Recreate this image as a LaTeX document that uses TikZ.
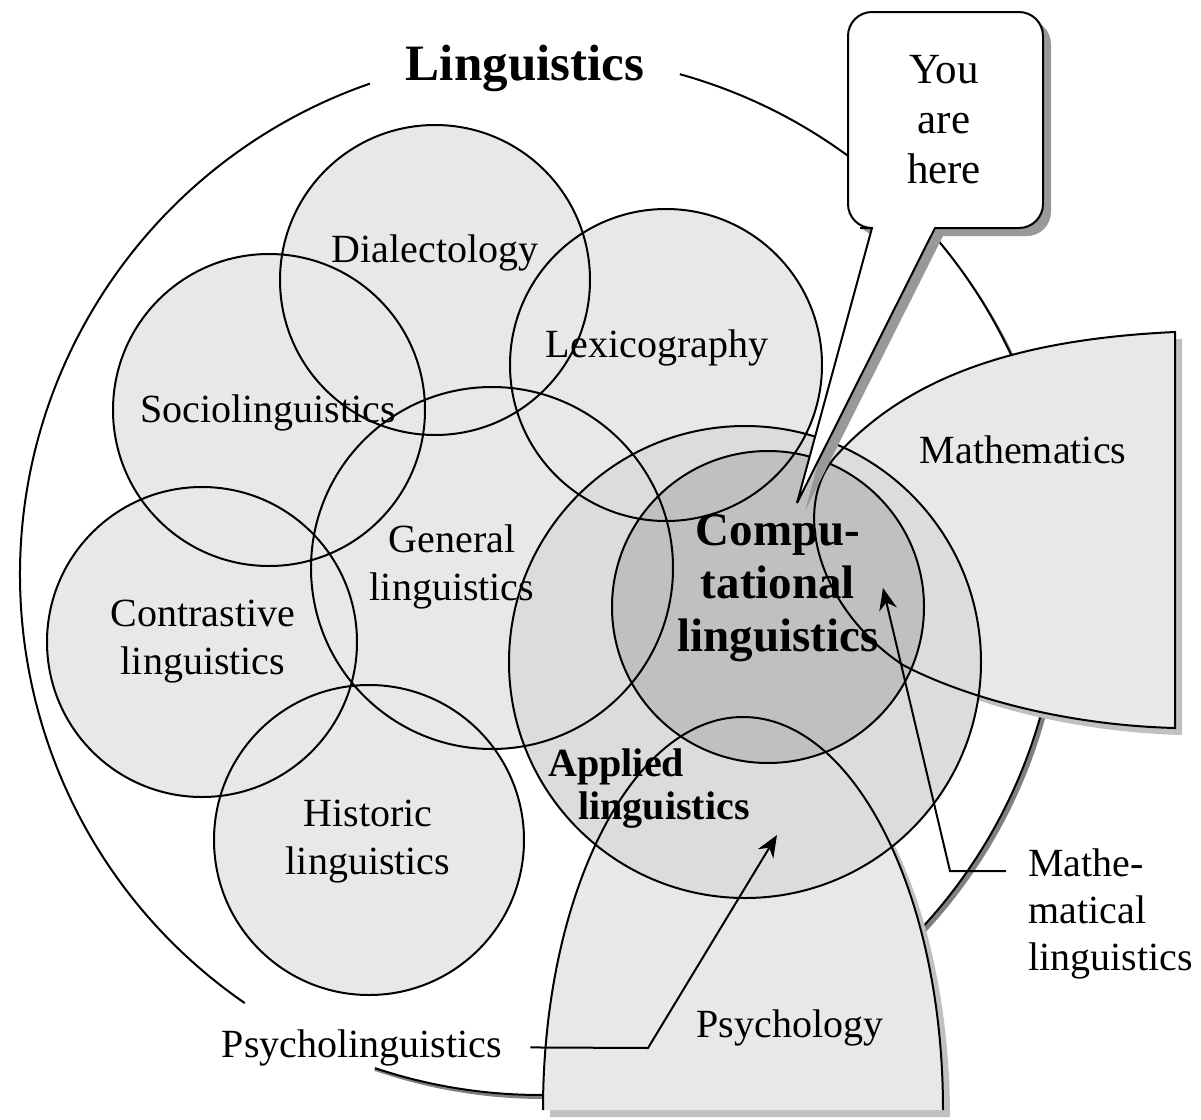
\documentclass[tikz,border=0pt]{standalone}
\usepackage{fontspec}
\setmainfont{Liberation Serif}
\usetikzlibrary{arrows.meta}

\definecolor{fieldgray}{HTML}{E8E8E8}
\definecolor{appliedgray}{HTML}{DCDCDC}
\definecolor{compgray}{HTML}{C0C0C0}
\definecolor{shadowdark}{HTML}{808080}
\definecolor{shadowmid}{HTML}{999999}
\definecolor{shadowlight}{HTML}{C0C0C0}

% boundaries of the irregular regions (pixel-like units, y pointing down)
\newcommand{\mathsregion}{(835,457) .. controls (900,385) and (1000,340) .. (1175,332) -- (1175,728) .. controls (1060,725) and (960,695) .. (903,665) .. controls (820,610) and (790,510) .. (835,457) -- cycle}
\newcommand{\psychregion}{(543,1110) arc[start angle=180, end angle=360, x radius=200, y radius=393]}
\newcommand{\bubbleregion}{(848,120) [rounded corners=12pt] -- (848,12) -- (1043,12) -- (1043,228) -- (960,228) [sharp corners] -- (935,228) -- (797,503) -- (872,228) -- (860,228) [rounded corners=12pt] -- (848,228) -- cycle}

\begin{document}
\begin{tikzpicture}[x=0.5pt, y=-0.5pt,
  outline/.style={draw=black, line width=1pt},
  txt/.style={inner sep=0pt, align=center, font=\fontsize{20}{24}\selectfont},
  pointer/.style={draw=black, line width=1pt, -{Stealth[length=11pt, width=9pt]}},
]
\useasboundingbox (0,0) rectangle (1201,1120);
\fill[white] (0,0) rectangle (1201,1120);

% circle centres
\coordinate (c-out) at (540,575);
\coordinate (c-dia) at (435,280);
\coordinate (c-soc) at (269,410);
\coordinate (c-lex) at (666,365);
\coordinate (c-gen) at (492,568);
\coordinate (c-con) at (202,642);
\coordinate (c-his) at (369,840);
\coordinate (c-app) at (745,662);
\coordinate (c-com) at (768,607);

% the whole field of linguistics, open where the side label sits
\fill[shadowdark] ([shift={(4,4)}]c-out) circle[radius=520];
\fill[white] (c-out) circle[radius=520];
\fill[white] (c-out) -- ++(108.5:545) arc[start angle=108.5, end angle=124.6, radius=545] -- cycle;
\draw[outline] (c-out) ++(-74.4:520) arc[start angle=-74.4, end angle=108.5, radius=520];
\draw[outline] (c-out) ++(124.6:520) arc[start angle=124.6, end angle=250.9, radius=520];

% neighbouring disciplines
\fill[shadowlight, shift={(7,7)}] \mathsregion;
\fill[fieldgray] \mathsregion;
\fill[shadowlight, shift={(7,7)}] \psychregion -- cycle;
\fill[fieldgray] \psychregion -- cycle;

% branches of linguistics: fills
\fill[fieldgray] (c-dia) circle[radius=155] (c-soc) circle[radius=156]
  (c-lex) circle[radius=156] (c-gen) circle[radius=181]
  (c-con) circle[radius=155] (c-his) circle[radius=155];
\fill[appliedgray] (c-app) circle[radius=236];
\fill[compgray] (c-com) circle[radius=156];

% branches of linguistics: outlines
\draw[outline] (c-dia) circle[radius=155] (c-soc) circle[radius=156]
  (c-lex) circle[radius=156] (c-gen) circle[radius=181]
  (c-con) circle[radius=155] (c-his) circle[radius=155]
  (c-app) circle[radius=236] (c-com) circle[radius=156];
\draw[outline] \mathsregion;
\draw[outline] \psychregion;

% labels
\node[txt, font=\bfseries\fontsize{25.5}{28}\selectfont, anchor=base] (title) at (525,80) {Linguistics};
\node[txt, anchor=base] (dialect) at (435,262) {Dialectology};
\node[txt, anchor=base] (lexico) at (657,357) {Lexicography};
\node[txt, anchor=base] (socio) at (268,422) {Sociolinguistics};
\node[txt] (general) at (452,567) {General\\linguistics};
\node[txt] (contrast) at (203,642) {Contrastive\\linguistics};
\node[txt] (historic) at (368,842) {Historic\\linguistics};
\node[txt, anchor=base] (maths) at (1023,463) {Mathematics};
\node[txt, anchor=base] (psych) at (790,1037) {Psychology};
\node[txt, anchor=base, inner xsep=14pt, fill=white] (psycholing) at (362,1057) {Psycholinguistics};
\node[txt, align=left, anchor=west, inner xsep=11pt, font=\fontsize{20}{23.5}\selectfont] (mathling) at (1006,914) {Mathe-\\matical\\linguistics};
\node[txt, font=\bfseries\fontsize{23.5}{26.5}\selectfont] (comp) at (778,588) {Compu-\\tational\\linguistics};
\node[txt, align=left, anchor=north west, font=\bfseries\fontsize{20}{21.5}\selectfont] (applied) at (548,748) {Applied\\\hspace*{15pt}linguistics};

% pointers from the side labels
\coordinate (pl-bend) at (648,1048);
\coordinate (pl-tip) at (777,835);
\draw[pointer] (psycholing.east) -- (pl-bend) -- (pl-tip);
\coordinate (ml-bend) at (950,871);
\coordinate (ml-tip) at (883,588);
\draw[pointer] (mathling.west |- ml-bend) -- (ml-bend) -- (ml-tip);

% speech bubble
\fill[shadowmid, shift={(8,8)}] \bubbleregion;
\filldraw[fill=white, outline] \bubbleregion;
\node[txt, font=\fontsize{21.5}{25}\selectfont] (here) at (944,120) {You\\are\\here};
\end{tikzpicture}
\end{document}
